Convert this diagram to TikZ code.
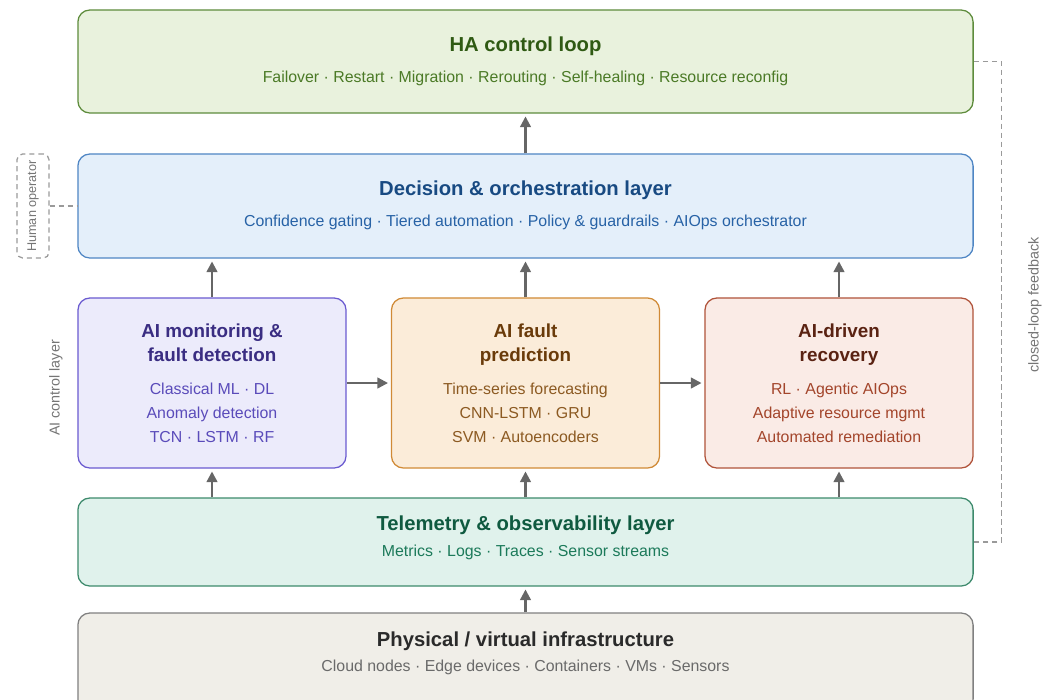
\documentclass[tikz,border=0pt]{standalone}
\usepackage{fontspec}
\setmainfont{Liberation Sans}
\usetikzlibrary{arrows.meta}
\definecolor{haFill}{HTML}{E9F2DD}\definecolor{haDraw}{HTML}{5E8C3C}
\definecolor{haTitle}{HTML}{2F5A13}\definecolor{haText}{HTML}{4B7A26}
\definecolor{decFill}{HTML}{E4EFFA}\definecolor{decDraw}{HTML}{4F86C4}
\definecolor{decTitle}{HTML}{184A82}\definecolor{decText}{HTML}{2762A6}
\definecolor{monFill}{HTML}{ECEBFB}\definecolor{monDraw}{HTML}{6A5AD0}
\definecolor{monTitle}{HTML}{3A2D82}\definecolor{monText}{HTML}{5A4BBA}
\definecolor{preFill}{HTML}{FBECD9}\definecolor{preDraw}{HTML}{D08A36}
\definecolor{preTitle}{HTML}{6A3B0A}\definecolor{preText}{HTML}{8C5A22}
\definecolor{recFill}{HTML}{FAEBE6}\definecolor{recDraw}{HTML}{B0533A}
\definecolor{recTitle}{HTML}{5A2212}\definecolor{recText}{HTML}{A3452B}
\definecolor{telFill}{HTML}{E0F2EC}\definecolor{telDraw}{HTML}{3D8A6C}
\definecolor{telTitle}{HTML}{0F5A40}\definecolor{telText}{HTML}{1C7A5A}
\definecolor{phyFill}{HTML}{F0EEE8}\definecolor{phyDraw}{HTML}{808080}
\definecolor{phyTitle}{HTML}{2A2A2A}\definecolor{phyText}{HTML}{6A6A6A}
\definecolor{flowGray}{HTML}{666666}\definecolor{noteGray}{HTML}{9A9A9A}

\begin{document}
\begin{tikzpicture}[x=0.025cm,y=-0.025cm,
layer/.style={draw=#1Draw,fill=#1Fill,line width=0.9pt,rounded corners=8.5pt,inner sep=0pt},
wide/.style={minimum width=22.375cm},
tile/.style={minimum width=6.7cm,minimum height=4.25cm},
ttl/.style={anchor=base,font=\fontsize{14.4}{17}\selectfont\bfseries},
mttl/.style={anchor=base,font=\fontsize{13.4}{16}\selectfont\bfseries},
txt/.style={anchor=base,font=\fontsize{11.3}{13}\selectfont},
flow/.style={draw=flowGray,line width=1.6pt,shorten >=2pt,-{Triangle[length=7.5pt,width=7.5pt]}},
note/.style={text=flowGray!90,font=\fontsize{10.2}{12}\selectfont},
fb/.style={draw=noteGray,line width=0.9pt,dash pattern=on 3.6pt off 2.8pt}]
\useasboundingbox (0,0) rectangle (1051,699);
\node[layer=ha,wide,minimum height=2.575cm] (ha) at (525.5,61.5) {};
\node[layer=dec,wide,minimum height=2.6cm] (dec) at (525.5,206) {};
\node[layer=mon,tile] (mon) at (212,383) {};
\node[layer=pre,tile] (pre) at (525.5,383) {};
\node[layer=rec,tile] (rec) at (839,383) {};
\node[layer=tel,wide,minimum height=2.2cm] (tel) at (525.5,542) {};
\node[layer=phy,wide,minimum height=2.45cm] (phy) at (525.5,662) {};

\node[ttl,text=haTitle] (haT) at (525.5,51) {HA control loop};
\node[txt,text=haText] (haS) at (525.5,82) {Failover · Restart · Migration · Rerouting · Self-healing · Resource reconfig};
\node[ttl,text=decTitle] (decT) at (525.5,195) {Decision \& orchestration layer};
\node[txt,text=decText] (decS) at (525.5,226) {Confidence gating · Tiered automation · Policy \& guardrails · AIOps orchestrator};
\node[mttl,text=monTitle] (monA) at (212,337) {AI monitoring \&};
\node[mttl,text=monTitle] (monB) at (212,361) {fault detection};
\node[txt,text=monText] (mon1) at (212,394) {Classical ML · DL};
\node[txt,text=monText] (mon2) at (212,418) {Anomaly detection};
\node[txt,text=monText] (mon3) at (212,442) {TCN · LSTM · RF};
\node[mttl,text=preTitle] (preA) at (525.5,337) {AI fault};
\node[mttl,text=preTitle] (preB) at (525.5,361) {prediction};
\node[txt,text=preText] (pre1) at (525.5,394) {Time-series forecasting};
\node[txt,text=preText] (pre2) at (525.5,418) {CNN-LSTM · GRU};
\node[txt,text=preText] (pre3) at (525.5,442) {SVM · Autoencoders};
\node[mttl,text=recTitle] (recA) at (839,337) {AI-driven};
\node[mttl,text=recTitle] (recB) at (839,361) {recovery};
\node[txt,text=recText] (rec1) at (839,394) {RL · Agentic AIOps};
\node[txt,text=recText] (rec2) at (839,418) {Adaptive resource mgmt};
\node[txt,text=recText] (rec3) at (839,442) {Automated remediation};
\node[ttl,text=telTitle] (telT) at (525.5,530) {Telemetry \& observability layer};
\node[txt,text=telText] (telS) at (525.5,556) {Metrics · Logs · Traces · Sensor streams};
\node[ttl,text=phyTitle] (phyT) at (525.5,646) {Physical / virtual infrastructure};
\node[txt,text=phyText] (phyS) at (525.5,671) {Cloud nodes · Edge devices · Containers · VMs · Sensors};

\node[draw=noteGray,line width=0.9pt,dash pattern=on 3.6pt off 2.8pt,rounded corners=4pt,
  minimum width=0.8cm,minimum height=2.6cm,inner sep=0pt] (hum) at (33,206) {};
\node[note,rotate=90,font=\fontsize{9}{11}\selectfont] (humT) at (33,206) {Human operator};
\node[note,rotate=90] (ailay) at (56,388) {AI control layer};
\node[note,rotate=90] (loop) at (1035,305) {closed-loop feedback};

\draw[flow] (dec) -- (ha);
\foreach \b in {mon,pre,rec}{
  \draw[flow] (\b.north) -- (\b.north |- dec.south);
  \draw[flow] (\b.south |- tel.north) -- (\b.south);
}
\draw[flow] (phy.north) -- (tel.south);
\draw[flow] (mon.east) -- (pre.west);
\draw[flow] (pre.east) -- (rec.west);
\draw[fb] (hum.east) -- (dec.west);
\draw[fb] (ha.east) -- ++(28,0) |- (tel.east);
\end{tikzpicture}
\end{document}
